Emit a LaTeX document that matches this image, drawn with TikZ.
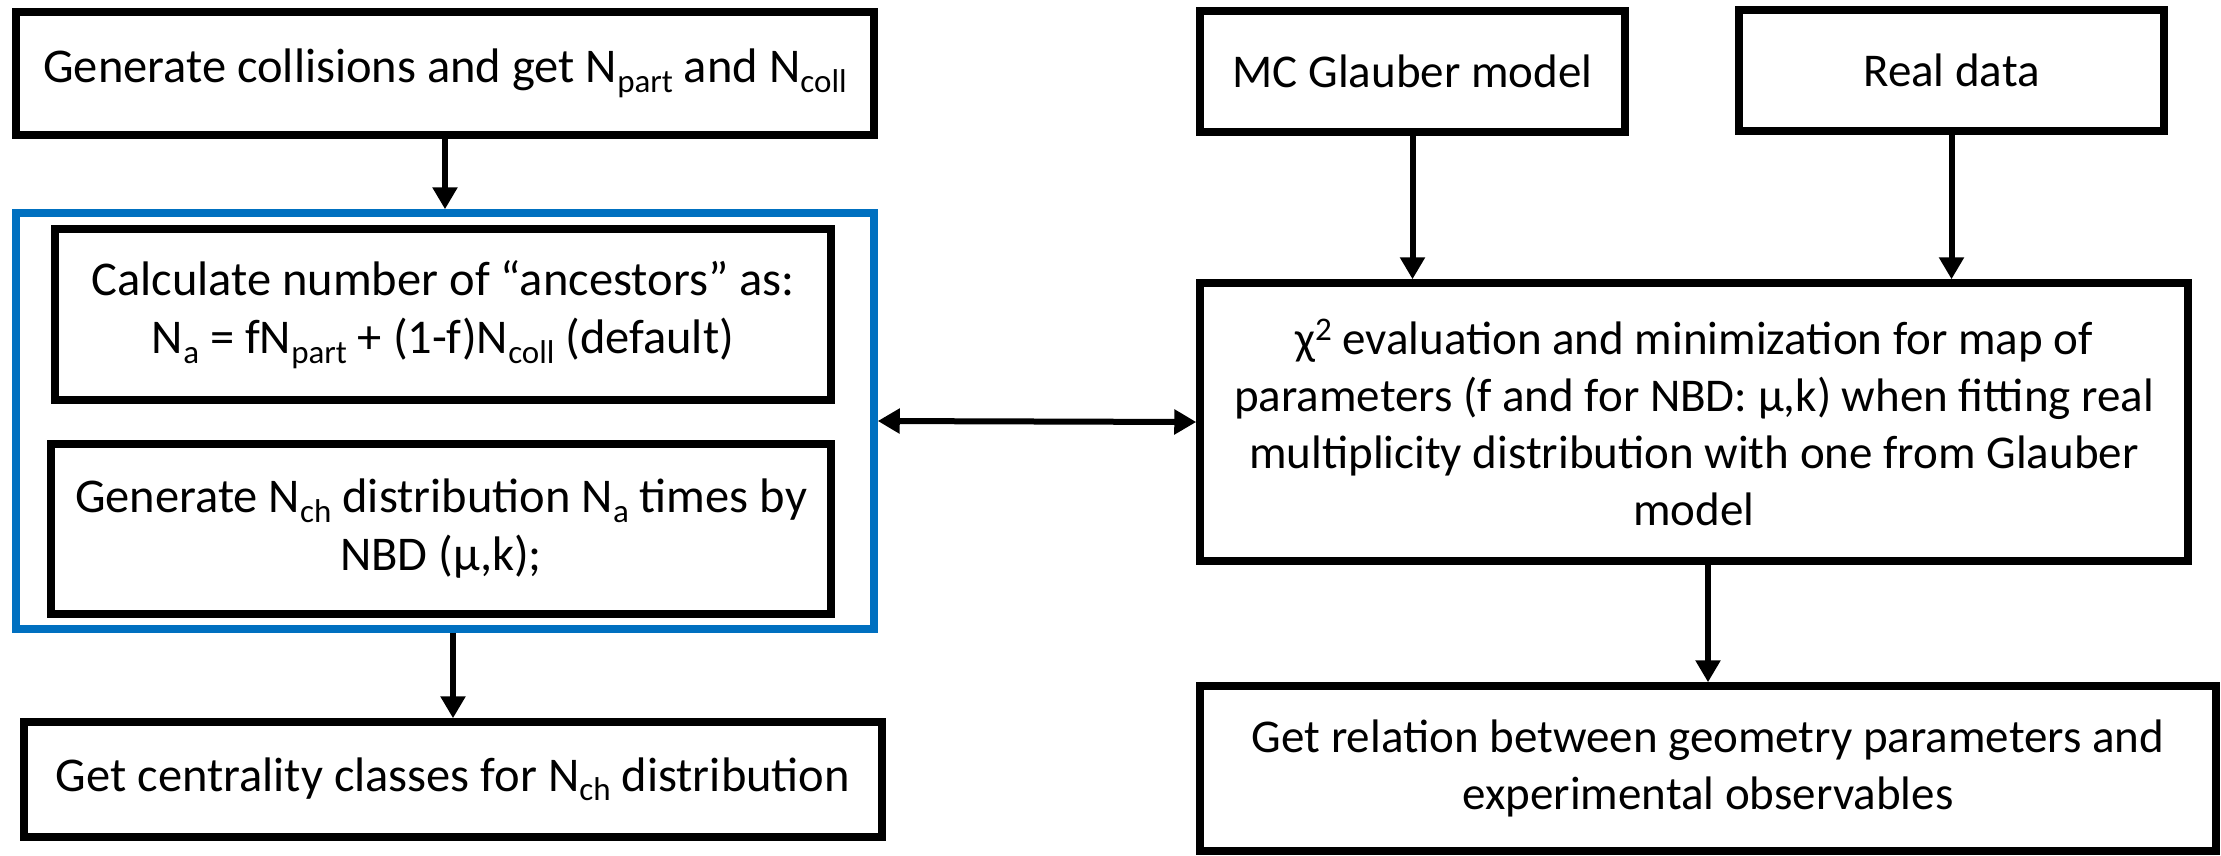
\documentclass[tikz,border=0pt]{standalone}
\usepackage{fontspec}
\setmainfont{Carlito}
\usetikzlibrary{arrows.meta}
\definecolor{pblue}{RGB}{0,112,192}
\newcommand\sbs[1]{\raisebox{-9.5pt}{\fontsize{33}{33}\selectfont #1}}
\begin{document}
\begin{tikzpicture}[x=1pt,y=-1pt,
  flowbox/.style={draw=black, line width=7.5pt, inner sep=0pt, align=center,
    font=\fontsize{47}{57}\selectfont},
  leftbox/.style={flowbox, font=\fontsize{48.5}{58}\selectfont},
  groupbox/.style={draw=pblue, line width=7.5pt, inner sep=0pt},
  conn/.style={line width=6pt, -{Triangle[width=24pt,length=22pt]}},
  dconn/.style={line width=6pt, {Triangle[width=24pt,length=22pt]}-{Triangle[width=24pt,length=22pt]}}]
\useasboundingbox (0,0) rectangle (2221,855);
\fill[white] (0,0) rectangle (2221,855);

\node[leftbox, minimum width=858pt, minimum height=123pt] (gen) at (445,73.5)
  {Generate collisions and get N\sbs{part} and N\sbs{coll}};
\node[groupbox, minimum width=858pt, minimum height=416pt] (grp) at (445,421) {};
\node[leftbox, minimum width=776pt, minimum height=171pt] (anc) at (443,314.5)
  {Calculate number of “ancestors” as:\\
   N\sbs{a} = fN\sbs{part} + (1-f)N\sbs{coll} (default)};
\node[leftbox, minimum width=780pt, minimum height=170pt] (nch) at (441,529)
  {Generate N\sbs{ch} distribution N\sbs{a} times by\\ NBD (μ,k);};
\node[leftbox, minimum width=858pt, minimum height=115pt] (cent) at (453,779.5)
  {Get centrality classes for N\sbs{ch} distribution};

\node[flowbox, minimum width=425pt, minimum height=121pt] (mc) at (1412.5,71.5)
  {MC Glauber model};
\node[flowbox, minimum width=425pt, minimum height=121pt] (real) at (1951.5,70.5)
  {Real data};
\node[flowbox, minimum width=988pt, minimum height=278pt] (chi) at (1694,422)
  {χ\raisebox{14pt}{\fontsize{33}{33}\selectfont 2} evaluation and minimization for map of\\
   parameters (f and for NBD: μ,k) when fitting real\\
   multiplicity distribution with one from Glauber\\
   model};
\node[flowbox, minimum width=1016pt, minimum height=165pt] (rel) at (1708,768.5)
  {Get relation between geometry parameters and\\ experimental observables};

\draw[conn] (gen.south) -- (gen.south |- grp.north);
\draw[conn] (grp.south -| cent.north) -- (cent.north);
\draw[conn] (mc.south) -- (mc.south |- chi.north);
\draw[conn] (real.south) -- (real.south |- chi.north);
\draw[conn] (chi.south -| rel.north) -- (rel.north);
\draw[dconn] (grp.east) -- (chi.west);
\end{tikzpicture}
\end{document}
